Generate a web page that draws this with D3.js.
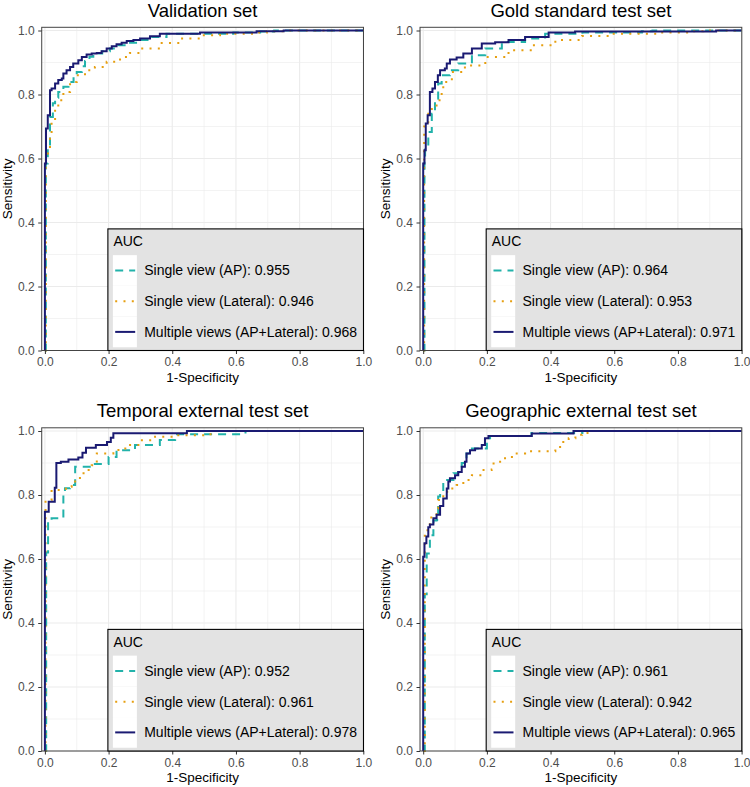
<!DOCTYPE html>
<html>
<head>
<meta charset="utf-8">
<script src="https://cdn.jsdelivr.net/npm/d3@7"></script>
<style>
html,body{margin:0;padding:0;background:#fff;}
svg{display:block;font-family:"Liberation Sans",Arial,Helvetica,sans-serif;}
</style>
</head>
<body>
<svg id="chart" width="750" height="787"></svg>
<script>
// ---------- data ----------
const panelTitles = ["Validation set", "Gold standard test set", "Temporal external test set", "Geographic external test set"];
const seriesNames = ["Single view (AP)", "Single view (Lateral)", "Multiple views (AP+Lateral)"];
const seriesColors = ["#22B2AA", "#E69F10", "#1A1A72"];
const aucValues = [
  [0.955, 0.946, 0.968],
  [0.964, 0.953, 0.971],
  [0.952, 0.961, 0.978],
  [0.961, 0.942, 0.965]
];
const xTicks = [0, 0.2, 0.4, 0.6, 0.8, 1.0];
const yTicks = [0, 0.2, 0.4, 0.6, 0.8, 1.0];
const minorTicks = [0.1, 0.3, 0.5, 0.7, 0.9];

// ROC points [1-specificity, sensitivity]
const valAP = [[0,0],[0.003,0.3],[0.003,0.584],[0.009,0.63],[0.016,0.73],[0.025,0.773],[0.032,0.79],[0.042,0.808],[0.058,0.824],[0.074,0.839],[0.09,0.86],[0.1,0.87],[0.116,0.888],[0.126,0.905],[0.14,0.918],[0.152,0.928],[0.18,0.935],[0.204,0.944],[0.231,0.954],[0.257,0.962],[0.29,0.97],[0.33,0.98],[0.382,0.99],[0.508,0.99],[0.592,0.994],[0.676,0.997],[0.72,1],[1,1]];
const valLat = [[0,0],[0.003,0.3],[0.003,0.616],[0.016,0.678],[0.021,0.72],[0.032,0.756],[0.042,0.782],[0.058,0.808],[0.079,0.839],[0.1,0.86],[0.126,0.876],[0.157,0.886],[0.194,0.902],[0.236,0.917],[0.267,0.93],[0.299,0.944],[0.361,0.961],[0.424,0.975],[0.487,0.985],[0.55,0.99],[0.654,0.994],[0.697,0.998],[0.75,1],[1,1]];
const valMulti = [[0,0],[0,0.584],[0.0035,0.694],[0.009,0.735],[0.016,0.813],[0.021,0.819],[0.032,0.834],[0.042,0.845],[0.053,0.85],[0.058,0.866],[0.068,0.876],[0.079,0.886],[0.089,0.897],[0.105,0.907],[0.116,0.917],[0.131,0.925],[0.147,0.928],[0.163,0.93],[0.178,0.935],[0.194,0.944],[0.21,0.951],[0.225,0.957],[0.241,0.962],[0.257,0.967],[0.278,0.97],[0.299,0.975],[0.33,0.982],[0.361,0.99],[0.487,0.994],[0.665,0.998],[0.75,1],[1,1]];

const goldAP = [[0,0],[0.004,0.4],[0.004,0.6],[0.006,0.636],[0.016,0.683],[0.027,0.74],[0.037,0.787],[0.047,0.834],[0.058,0.86],[0.084,0.876],[0.11,0.897],[0.153,0.923],[0.195,0.944],[0.247,0.964],[0.32,0.975],[0.383,0.99],[0.5,0.994],[0.687,0.998],[0.72,1],[1,1]];
const goldLat = [[0,0],[0.003,0.45],[0.003,0.7],[0.016,0.74],[0.027,0.761],[0.042,0.782],[0.058,0.813],[0.063,0.839],[0.09,0.87],[0.131,0.891],[0.195,0.917],[0.268,0.938],[0.342,0.954],[0.415,0.97],[0.499,0.983],[0.583,0.99],[0.74,0.994],[0.845,0.998],[0.88,1],[1,1]];
const goldMulti = [[0,0],[0,0.584],[0.004,0.626],[0.008,0.709],[0.014,0.735],[0.021,0.808],[0.029,0.819],[0.037,0.839],[0.046,0.86],[0.053,0.876],[0.068,0.881],[0.074,0.897],[0.084,0.909],[0.105,0.916],[0.126,0.928],[0.153,0.944],[0.184,0.959],[0.226,0.963],[0.268,0.97],[0.32,0.98],[0.394,0.994],[0.477,0.997],[0.92,1],[1,1]];

const tempAP = [[0,0],[0.004,0.44],[0.004,0.62],[0.01,0.72],[0.021,0.727],[0.058,0.753],[0.058,0.8],[0.063,0.821],[0.079,0.831],[0.095,0.888],[0.15,0.897],[0.2,0.919],[0.225,0.94],[0.283,0.956],[0.361,0.972],[0.409,0.99],[0.63,1],[1,1]];
const tempLat = [[0,0],[0.002,0.5],[0.002,0.784],[0.021,0.816],[0.066,0.826],[0.084,0.837],[0.095,0.847],[0.11,0.868],[0.131,0.878],[0.147,0.893],[0.163,0.93],[0.215,0.935],[0.231,0.945],[0.262,0.956],[0.3,0.971],[0.346,0.982],[0.414,0.987],[0.508,0.99],[0.53,1],[1,1]];
const tempMulti = [[0,0],[0,0.748],[0.012,0.779],[0.031,0.823],[0.036,0.9],[0.05,0.904],[0.074,0.911],[0.105,0.917],[0.118,0.932],[0.129,0.948],[0.16,0.956],[0.195,0.966],[0.207,0.979],[0.215,0.993],[0.446,1],[1,1]];

const geoAP = [[0,0],[0.005,0.37],[0.005,0.49],[0.011,0.617],[0.021,0.674],[0.032,0.72],[0.042,0.722],[0.047,0.795],[0.053,0.81],[0.063,0.847],[0.095,0.868],[0.11,0.872],[0.121,0.9],[0.136,0.93],[0.153,0.945],[0.2,0.977],[0.21,0.984],[0.34,0.994],[0.5,1],[1,1]];
const geoLat = [[0,0],[0.005,0.4],[0.005,0.69],[0.021,0.73],[0.042,0.758],[0.047,0.784],[0.063,0.81],[0.084,0.82],[0.105,0.831],[0.126,0.847],[0.153,0.862],[0.184,0.878],[0.215,0.88],[0.221,0.904],[0.257,0.919],[0.289,0.93],[0.32,0.937],[0.415,0.95],[0.435,0.966],[0.457,0.977],[0.478,0.988],[0.499,0.994],[0.52,1],[1,1]];
const geoMulti = [[0,0],[0,0.607],[0.004,0.649],[0.01,0.67],[0.016,0.699],[0.021,0.708],[0.032,0.727],[0.042,0.738],[0.053,0.766],[0.063,0.789],[0.074,0.82],[0.079,0.842],[0.084,0.852],[0.1,0.862],[0.11,0.872],[0.121,0.888],[0.131,0.904],[0.136,0.93],[0.147,0.94],[0.163,0.945],[0.184,0.956],[0.194,0.977],[0.205,0.984],[0.341,0.992],[0.472,1],[1,1]];

const panelSeries = [
  [valAP, valLat, valMulti],
  [goldAP, goldLat, goldMulti],
  [tempAP, tempLat, tempMulti],
  [geoAP, geoLat, geoMulti]
];

// ---------- layout ----------
const colX0 = [44.9, 423.2];
const rowY1 = [30.5, 431];
const unitX = 318.4, unitY = 320;
const dashes = ["8,6", "2,6.3", null];

const svg = d3.select("#chart");
const fmt = d3.format(".1f");

panelTitles.forEach((title, i) => {
  const col = i % 2, row = Math.floor(i / 2);
  const x = d3.scaleLinear().domain([0, 1]).range([colX0[col], colX0[col] + unitX]);
  const y = d3.scaleLinear().domain([0, 1]).range([rowY1[row] + unitY, rowY1[row]]);
  const L = x(-0.01), R = x(1.0006), T = y(1.01), B = y(0);
  const g = svg.append("g");

  // grid
  g.selectAll(".vmin").data(minorTicks).join("line")
    .attr("x1", d => x(d)).attr("x2", d => x(d)).attr("y1", T).attr("y2", B)
    .attr("stroke", "#EBEBEB").attr("stroke-width", 0.6);
  g.selectAll(".hmin").data(minorTicks).join("line")
    .attr("y1", d => y(d)).attr("y2", d => y(d)).attr("x1", L).attr("x2", R)
    .attr("stroke", "#EBEBEB").attr("stroke-width", 0.6);
  g.selectAll(".vmaj").data(xTicks).join("line")
    .attr("x1", d => x(d)).attr("x2", d => x(d)).attr("y1", T).attr("y2", B)
    .attr("stroke", "#EBEBEB").attr("stroke-width", 1.1);
  g.selectAll(".hmaj").data(yTicks).join("line")
    .attr("y1", d => y(d)).attr("y2", d => y(d)).attr("x1", L).attr("x2", R)
    .attr("stroke", "#EBEBEB").attr("stroke-width", 1.1);

  // curves
  const line = d3.line().x(d => x(d[0])).y(d => y(d[1])).curve(d3.curveStepAfter);
  panelSeries[i].forEach((pts, s) => {
    g.append("path").datum(pts).attr("d", line)
      .attr("fill", "none").attr("stroke", seriesColors[s]).attr("stroke-width", 2)
      .attr("stroke-dasharray", dashes[s]);
  });

  // border
  g.append("rect").attr("x", L).attr("y", T).attr("width", R - L).attr("height", B - T)
    .attr("fill", "none").attr("stroke", "#444").attr("stroke-width", 1);

  // axes
  const ax = g.append("g").attr("transform", `translate(0,${B})`)
    .call(d3.axisBottom(x).tickValues(xTicks).tickFormat(fmt).tickSize(3.5).tickPadding(3.5));
  const ay = g.append("g").attr("transform", `translate(${L},0)`)
    .call(d3.axisLeft(y).tickValues(yTicks).tickFormat(fmt).tickSize(3.5).tickPadding(3.6));
  [ax, ay].forEach(a => {
    a.select(".domain").remove();
    a.selectAll(".tick line").attr("stroke", "#333").attr("stroke-width", 1);
    a.selectAll(".tick text").attr("fill", "#4D4D4D").style("font-size", "12px")
      .style("font-family", "'Liberation Sans',Arial,sans-serif");
  });

  // titles
  g.append("text").attr("x", (L + R) / 2).attr("y", T - 10.5).attr("text-anchor", "middle")
    .style("font-size", "18.5px").attr("fill", "#000").text(title);
  g.append("text").attr("x", (L + R) / 2).attr("y", B + 31).attr("text-anchor", "middle")
    .style("font-size", "13.5px").attr("fill", "#000").text("1-Specificity");
  g.append("text").attr("transform", `translate(${L - 30.2},${(T + B) / 2}) rotate(-90)`)
    .attr("text-anchor", "middle").style("font-size", "13.5px").attr("fill", "#000").text("Sensitivity");

  // legend
  const lw = 255.6, lh = 121.6;
  const lg = g.append("g").attr("transform", `translate(${R - lw},${B - lh})`);
  lg.append("rect").attr("width", lw).attr("height", lh).attr("fill", "#E3E3E3")
    .attr("stroke", "#000").attr("stroke-width", 1.1);
  lg.append("text").attr("x", 5.5).attr("y", 17.4).style("font-size", "14px").attr("fill", "#000").text("AUC");
  const rowsY = [41.6, 72.3, 103];
  seriesNames.forEach((name, s) => {
    lg.append("rect").attr("x", 5).attr("y", rowsY[s] - 15.35).attr("width", 24).attr("height", 30.7)
      .attr("fill", "#fff");
  });
  seriesNames.forEach((name, s) => {
    lg.append("line").attr("x1", 7.3).attr("x2", 27.3).attr("y1", rowsY[s]).attr("y2", rowsY[s])
      .attr("stroke", seriesColors[s]).attr("stroke-width", 2).attr("stroke-dasharray", dashes[s]);
    lg.append("text").attr("x", 36.3).attr("y", rowsY[s] + 5).style("font-size", "14px").attr("fill", "#000")
      .text(`${name}: ${aucValues[i][s].toFixed(3)}`);
  });
});
</script>
</body>
</html>
